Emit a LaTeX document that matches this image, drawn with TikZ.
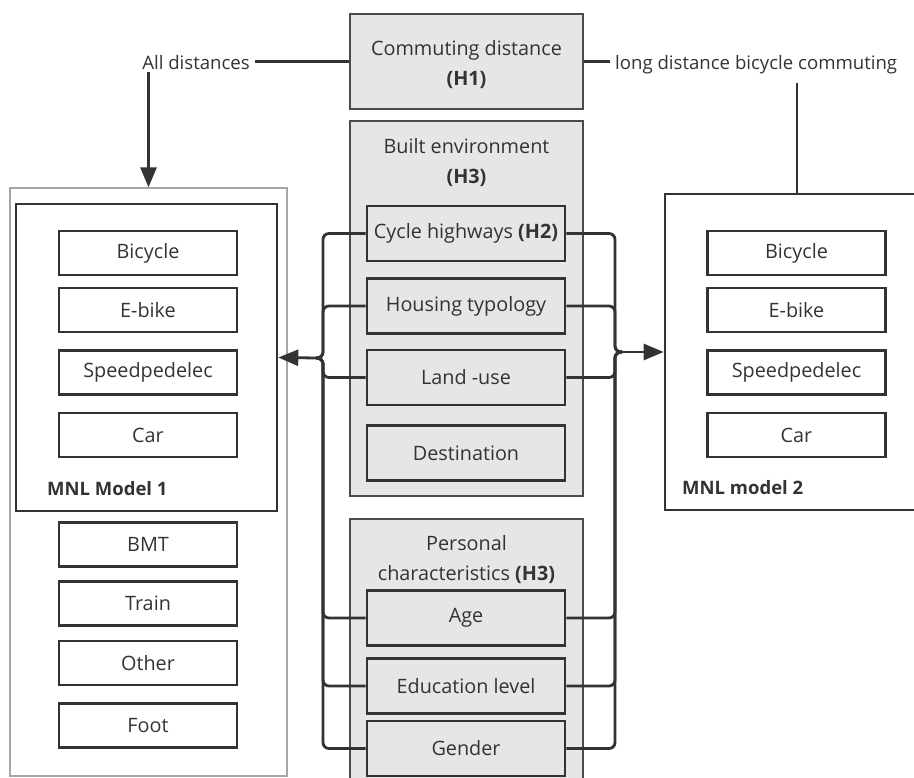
\documentclass[tikz,border=0pt]{standalone}
\usepackage{fontspec}
\setmainfont{Open Sans}
\usetikzlibrary{arrows.meta,positioning}
\definecolor{boxgray}{HTML}{E6E6E6}
\definecolor{linedark}{HTML}{333333}
\begin{document}
\begin{tikzpicture}[x=1pt,y=-1pt,
                every node/.style={font=\fontsize{19.8}{30.5}\selectfont, text=linedark},
                group/.style={draw=black!70, line width=1.4pt, fill=boxgray},
                factor/.style={draw=linedark, line width=2.8pt, fill=boxgray, minimum width=198pt, minimum height=55pt, inner sep=0pt},
                mode/.style={draw=linedark, line width=2.6pt, minimum width=178pt, minimum height=44pt, inner sep=0pt},
                model/.style={draw=linedark, line width=2.6pt},
                title/.style={inner sep=0pt, align=center, anchor=north},
                side/.style={inner sep=0pt, font=\fontsize{18.6}{30}\selectfont},
                link/.style={draw=linedark, line width=2.8pt, rounded corners=6pt},
                arr/.style={draw=linedark, line width=2.8pt, -{Triangle[length=20pt,width=16pt]}}
            ]
            \useasboundingbox (0,0) rectangle (914,778);
            % distance
            \node[group, minimum width=233pt, minimum height=95pt] (dist) at (466.5,61.5) {};
            \node[title] (distlbl) at (466.5,40) {Commuting distance\\\textbf{(H1)}};
            \node[side, anchor=base east] (all) at (250,70) {All distances};
            \node[side, anchor=base west] (lng) at (615,70) {long distance bicycle commuting};
            % model 1
            \node[draw=black!35, line width=1.3pt, minimum width=277pt, minimum height=588pt] (outer) at (148.5,482) {};
            \node[model, minimum width=261pt, minimum height=307pt] (m1) at (146.5,357.5) {};
            \node[mode] (bike1) at (148,253) {Bicycle};
            \node[mode] (ebike1) at (148,310) {E-bike};
            \node[mode] (speed1) at (148,372.5) {Speedpedelec};
            \node[mode] (car1) at (148,435) {Car};
            \node[inner sep=0pt, anchor=base west, font=\fontsize{18.5}{29}\selectfont\bfseries] (m1lbl) at (47,495) {MNL Model 1};
            \node[mode] (bmt) at (148,544.5) {BMT};
            \node[mode] (train) at (148,603.5) {Train};
            \node[mode] (other) at (148,663) {Other};
            \node[mode] (foot) at (148,725.5) {Foot};
            % model 2
            \node[model, minimum width=264pt, minimum height=316pt] (m2) at (797,352) {};
            \node[mode] (bike2) at (796.5,253) {Bicycle};
            \node[mode] (ebike2) at (796.5,310) {E-bike};
            \node[mode] (speed2) at (796.5,372.5) {Speedpedelec};
            \node[mode] (car2) at (796.5,435) {Car};
            \node[inner sep=0pt, anchor=base west, font=\fontsize{18.5}{29}\selectfont\bfseries] (m2lbl) at (682,494) {MNL model 2};
            % built environment
            \node[group, minimum width=233pt, minimum height=375pt] (built) at (466.5,308.5) {};
            \node[title] (builtlbl) at (466.5,138) {Built environment\\\textbf{(H3)}};
            \node[factor] (cyc) at (466,233.5) {Cycle highways \textbf{(H2)}};
            \node[factor] (hou) at (466,306) {Housing typology};
            \node[factor] (land) at (466,377.5) {Land -use};
            \node[factor] (dest) at (466,453) {Destination};
            % personal
            \node[group, minimum width=233pt, minimum height=300pt] (pers) at (466.5,669) {};
            \node[title] (perslbl) at (466.5,535) {Personal\\characteristics \textbf{(H3)}};
            \node[factor] (age) at (466,618) {Age};
            \node[factor] (edu) at (466,686) {Education level};
            \node[factor] (gen) at (466,748.5) {Gender};
            % connectors
            \coordinate (lb) at (323,358);
            \coordinate (rb) at (615,352);
            \foreach \f in {cyc,hou,land,age,edu,gen} {
                \draw[link] (\f.west) -| (lb) -- ([xshift=-7pt]lb);
                \draw[link] (\f.east) -| (rb) -- ([xshift=7pt]rb);
            }
            \draw[arr] ([xshift=-6pt]lb) -- (m1.east);
            \draw[arr] ([xshift=6pt]rb) -- (m2.west);
            \draw[link] (dist.west) -- ([xshift=5pt]all.east |- dist.west);
            \draw[link] (dist.east) -- ([xshift=-5pt]lng.west |- dist.east);
            \draw[arr] ([yshift=-2pt]outer.north |- all.south) -- (outer.north);
            \draw[link] ([yshift=-8pt]m2.north |- lng.south) -- (m2.north);
\end{tikzpicture}
\end{document}
